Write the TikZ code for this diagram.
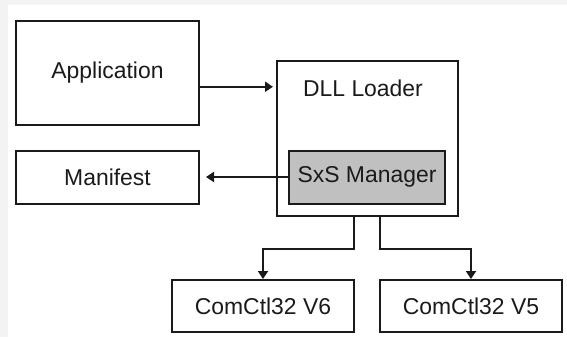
\documentclass[tikz,border=0pt]{standalone}
\usepackage{fontspec}
\setmainfont{Liberation Sans}
\usetikzlibrary{arrows.meta,calc}
\definecolor{bggray}{HTML}{F3F3F3}
\definecolor{boxgray}{HTML}{C0C0C0}
\definecolor{ink}{HTML}{1A1A1A}
\begin{document}
\begin{tikzpicture}[x=1bp,y=-1bp,
  lbl/.style={font=\fontsize{23}{27}\selectfont,text=ink},
  box/.style={lbl,draw=ink,line width=2bp,inner sep=0pt,fill=white},
  conn/.style={draw=ink,line width=2bp},
  arr/.style={conn,-{Triangle[length=8bp,width=10bp]}}]
\fill[bggray] (0,0) rectangle (567,337);
\fill[white] (8,5) rectangle (567,337);
\useasboundingbox (0,0) rectangle (567,337);
\node[box,minimum width=183bp,minimum height=104bp] (app) at (107.5,73) {\raisebox{4bp}{Application}};
\node[box,minimum width=181bp,minimum height=155bp] (dll) at (367.5,138) {};
\node[lbl,anchor=center] (dlltext) at (363,88) {DLL Loader};
\node[box,fill=boxgray,minimum width=156bp,minimum height=53bp] (sxs) at (367,177) {SxS Manager};
\node[box,minimum width=183bp,minimum height=53bp] (man) at (107.5,177) {Manifest};
\node[box,minimum width=182bp,minimum height=52bp] (v6) at (263,306) {ComCtl32 V6};
\node[box,minimum width=182bp,minimum height=52bp] (v5) at (471,306) {ComCtl32 V5};
\coordinate (appout) at ($(app.north east)!0.63!(app.south east)$);
\draw[arr,shorten >=3bp] (appout) -- (dll.west |- appout);
\draw[arr,shorten >=6bp] (sxs.west) -- (man.east);
\draw[arr] ($(dll.south west)!0.425!(dll.south east)$) -- ++(0,32) -| (v6.north);
\draw[arr] ($(dll.south west)!0.569!(dll.south east)$) -- ++(0,32) -| (v5.north);
\end{tikzpicture}
\end{document}
